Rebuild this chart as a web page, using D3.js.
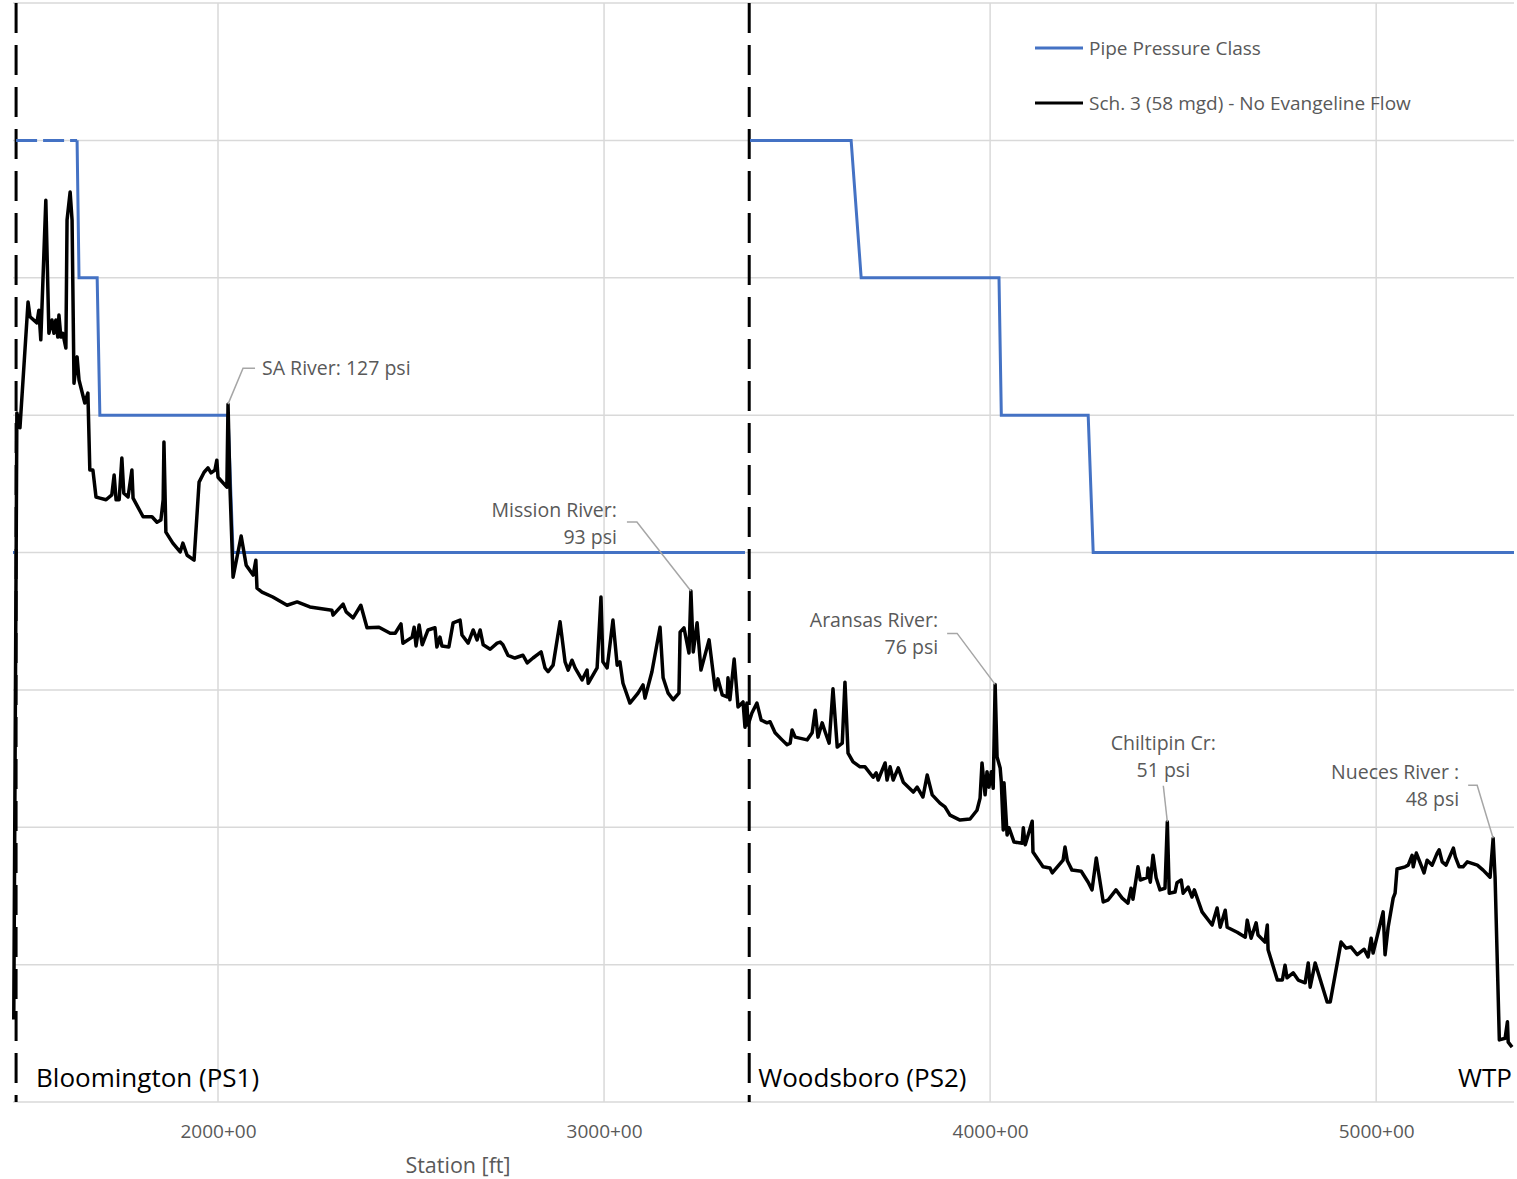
<!DOCTYPE html>
<html>
<head>
<meta charset="utf-8">
<script src="https://cdn.jsdelivr.net/npm/d3@7"></script>
<style>
  body { margin: 0; background: #fff; }
  svg { display: block; font-family: "Open Sans", Lato, sans-serif; }
</style>
</head>
<body>
<svg id="chart" width="1517" height="1179"></svg>
<script>
// Station (x 100 ft) vs pressure (psi)
const profile = [
  [1471,15.0],[1479,125.4],[1487,122.7],[1508,145.6],[1513,142.9],[1531,141.8],[1536,144.1],[1541,138.7],
  [1554,164.1],[1562,139.9],[1570,142.3],[1575,139.9],[1580,142.3],[1585,139.2],[1588,143.2],[1593,139.2],
  [1598,139.9],[1606,137.2],[1609,160.5],[1617,165.6],[1622,160.5],[1627,130.8],[1635,135.6],[1640,131.4],
  [1655,127.2],[1663,129.0],[1668,115.0],[1676,115.0],[1684,110.1],[1694,109.9],[1710,109.6],[1725,110.5],
  [1731,114.1],[1736,109.6],[1744,109.6],[1751,117.2],[1756,110.8],[1767,110.1],[1777,115.0],[1780,109.9],
  [1806,106.5],[1829,106.5],[1842,105.5],[1852,105.9],[1855,107.7],[1858,109.6],[1860,120.1],[1865,103.7],
  [1883,101.7],[1902,100.1],[1909,101.7],[1920,99.5],[1938,98.6],[1951,112.8],[1964,114.6],[1974,115.4],
  [1982,114.5],[1992,115.0],[1997,116.8],[2000,113.7],[2023,111.9],[2026,127],[2031,111.9],[2039,95.5],
  [2060,103.0],[2073,97.7],[2091,95.9],[2098,98.6],[2101,93.5],[2114,92.8],[2142,91.9],[2179,90.4],
  [2205,91.0],[2238,90.1],[2295,89.5],[2298,88.6],[2324,90.6],[2332,89.2],[2350,88.1],[2370,90.4],
  [2386,86.3],[2417,86.4],[2446,85.3],[2459,85.3],[2474,87.0],[2479,83.5],[2503,84.6],[2508,86.4],
  [2513,83.0],[2521,86.8],[2529,83.2],[2544,85.9],[2562,86.3],[2567,82.8],[2575,84.6],[2580,83.0],
  [2598,82.8],[2609,87.2],[2627,87.7],[2632,85.0],[2648,83.5],[2661,85.9],[2671,84.1],[2679,85.9],
  [2687,83.2],[2705,82.4],[2723,83.5],[2731,83.7],[2738,83.2],[2751,81.3],[2769,80.8],[2790,81.3],
  [2801,79.9],[2816,80.8],[2837,81.9],[2847,79.0],[2855,78.3],[2868,79.5],[2886,87.4],[2899,80.1],
  [2907,78.6],[2917,80.4],[2925,79.0],[2943,76.8],[2956,78.6],[2959,76.2],[2982,79.0],[2992,91.9],
  [2997,80.1],[3008,79.0],[3023,87.7],[3034,79.5],[3041,80.1],[3049,76.2],[3067,72.6],[3088,74.4],
  [3101,75.9],[3106,73.5],[3124,78.3],[3145,86.4],[3153,77.2],[3166,74.4],[3179,73.2],[3194,74.4],
  [3197,85.5],[3207,86.3],[3220,81.7],[3225,93],[3231,81.9],[3241,87.2],[3251,78.6],[3272,84.1],
  [3288,75.0],[3295,77.0],[3306,74.1],[3319,73.7],[3321,77.2],[3326,73.2],[3337,80.6],[3347,71.9],
  [3360,72.8],[3365,68.2],[3370,72.6],[3373,68.6],[3383,70.8],[3396,72.6],[3407,69.5],[3422,69.0],
  [3430,69.2],[3443,67.2],[3461,65.9],[3474,65.0],[3482,65.3],[3487,67.7],[3495,66.4],[3526,65.9],
  [3539,67.2],[3547,71.3],[3554,66.4],[3565,69.0],[3573,67.3],[3583,65.3],[3593,75.2],[3604,64.6],
  [3617,65.3],[3624,76.4],[3632,63.5],[3645,61.9],[3663,61.0],[3676,61.0],[3697,59.1],[3705,59.9],
  [3710,58.6],[3728,61.7],[3733,58.6],[3741,61.0],[3749,58.6],[3762,60.8],[3775,58.2],[3801,56.4],
  [3811,57.3],[3826,55.5],[3837,59.5],[3850,55.9],[3870,54.4],[3883,53.7],[3896,52.2],[3922,51.3],
  [3948,51.5],[3966,53.1],[3974,55.3],[3979,61.7],[3987,55.9],[3992,60.1],[3997,57.3],[4003,60.1],
  [4008,57.1],[4013,76],[4018,62.8],[4026,60.8],[4029,58.2],[4034,49.5],[4036,58.1],[4044,48.6],
  [4049,49.9],[4062,47.3],[4083,47.1],[4086,49.9],[4091,46.8],[4109,51.1],[4111,45.5],[4137,42.8],
  [4155,42.6],[4161,41.7],[4189,44.0],[4194,46.4],[4200,43.9],[4212,42.2],[4236,42.0],[4254,40.0],
  [4264,38.6],[4275,44.4],[4293,36.4],[4306,36.8],[4326,38.6],[4342,37.1],[4357,36.2],[4365,38.9],
  [4370,36.9],[4383,42.8],[4389,40.4],[4407,40.9],[4409,42.6],[4415,40.0],[4422,44.9],[4430,40.8],
  [4440,38.6],[4453,38.9],[4459,51],[4464,38.0],[4479,38.2],[4484,39.9],[4495,40.4],[4500,38.0],
  [4513,39.1],[4523,37.3],[4529,38.6],[4549,34.6],[4575,32.2],[4588,35.3],[4596,31.8],[4609,34.9],
  [4614,31.8],[4640,30.9],[4661,30.0],[4666,33.1],[4676,29.8],[4689,32.6],[4694,30.4],[4712,29.1],
  [4718,32.2],[4720,27.7],[4744,22.2],[4757,22.2],[4764,24.9],[4769,22.6],[4785,23.5],[4798,22.2],
  [4816,21.7],[4824,25.3],[4829,20.9],[4842,25.3],[4873,18.2],[4881,18.2],[4909,29.1],[4922,28.0],
  [4935,28.2],[4951,26.8],[4969,27.8],[4979,26.4],[4987,29.8],[4992,27.1],[5018,34.6],[5023,26.8],
  [5031,31.8],[5044,37.1],[5049,38.0],[5054,42.4],[5075,42.8],[5083,43.1],[5093,44.9],[5096,42.8],
  [5104,45.3],[5114,43.5],[5124,41.7],[5132,44.0],[5145,43.1],[5158,45.3],[5163,45.9],[5171,43.7],
  [5181,43.1],[5200,46.2],[5205,44.6],[5215,42.8],[5225,42.8],[5236,43.7],[5262,43.1],[5277,42.2],
  [5295,40.9],[5303,48],[5308,40.9],[5319,11.3],[5334,11.6],[5340,14.6],[5342,10.9],[5352,10.0]
];

// Pipe pressure class (psi) by station; null breaks the line
const pipeClass = [
  [1469,100],[1477,100],null,
  [1635,175],[1640,150],[1687,150],[1694,125],[2026,125],[2039,100],[3365,100],null,
  [3378,175],[3640,175],[3666,150],[4023,150],[4029,125],[4254,125],[4267,100],[5357,100]
];
const pipeClassDashed = [[1477,175],[1635,175]];

const pumpStations = [
  {name: 'Bloomington (PS1)', station: 1477},
  {name: 'Woodsboro (PS2)', station: 3376}
];
const endLabel = 'WTP';

const xTicks = [2000, 3000, 4000, 5000];
const yTicks = [0, 25, 50, 75, 100, 125, 150, 175, 200];

const callouts = [
  {lines: ['SA River: 127 psi'], station: 2026, psi: 127},
  {lines: ['Mission River:', '93 psi'], station: 3225, psi: 93},
  {lines: ['Aransas River:', '76 psi'], station: 4013, psi: 76},
  {lines: ['Chiltipin Cr:', '51 psi'], station: 4459, psi: 51},
  {lines: ['Nueces River :', '48 psi'], station: 5303, psi: 48}
];

const legendItems = [
  {label: 'Pipe Pressure Class', color: '#4472c4'},
  {label: 'Sch. 3 (58 mgd) - No Evangeline Flow', color: '#000'}
];

// ---- layout
const svg = d3.select('#chart');
const x = d3.scaleLinear().domain([1469, 5357]).range([13, 1514]);
const y = d3.scaleLinear().domain([0, 200]).range([1102, 3]);
const gridColor = '#d9d9d9';

// gridlines
svg.append('g')
  .selectAll('line')
  .data(yTicks)
  .join('line')
    .attr('x1', x.range()[0]).attr('x2', x.range()[1])
    .attr('y1', d => y(d)).attr('y2', d => y(d))
    .attr('stroke', gridColor).attr('stroke-width', 1.5);

svg.append('g')
  .selectAll('line')
  .data(xTicks)
  .join('line')
    .attr('x1', d => x(d)).attr('x2', d => x(d))
    .attr('y1', y(200)).attr('y2', y(0))
    .attr('stroke', gridColor).attr('stroke-width', 1.5);

// x axis labels
const xAxis = d3.axisBottom(x)
  .tickValues(xTicks)
  .tickSize(0)
  .tickPadding(23)
  .tickFormat(d => d + '+00');

svg.append('g')
  .attr('transform', `translate(0,${y(0)})`)
  .call(xAxis)
  .call(g => g.select('.domain').remove())
  .selectAll('text')
    .attr('font-family', '"Open Sans", sans-serif')
    .attr('font-size', '19px')
    .attr('fill', '#595959');

svg.append('text')
  .attr('x', 458).attr('y', 1173)
  .attr('text-anchor', 'middle')
  .attr('font-size', '21.5px')
  .attr('fill', '#595959')
  .text('Station [ft]');

// pump station markers
const labelShift = [20, 9];
svg.append('g')
  .selectAll('line')
  .data(pumpStations)
  .join('line')
    .attr('x1', d => x(d.station)).attr('x2', d => x(d.station))
    .attr('y1', y(200)).attr('y2', y(0))
    .attr('stroke', '#000').attr('stroke-width', 3)
    .attr('stroke-dasharray', '30,12');

svg.append('g')
  .selectAll('text')
  .data(pumpStations)
  .join('text')
    .attr('x', (d, i) => x(d.station) + labelShift[i])
    .attr('y', 1087)
    .attr('font-size', '26px')
    .attr('fill', '#000')
    .text(d => d.name);

svg.append('text')
  .attr('x', 1512).attr('y', 1087)
  .attr('text-anchor', 'end')
  .attr('font-size', '26px')
  .text(endLabel);

// lines
const line = d3.line()
  .defined(d => d != null)
  .x(d => x(d[0]))
  .y(d => y(d[1]));

svg.append('path')
  .datum(pipeClassDashed)
  .attr('fill', 'none')
  .attr('stroke', '#4472c4')
  .attr('stroke-width', 3)
  .attr('stroke-dasharray', '21,6')
  .attr('d', line);

svg.append('path')
  .datum(pipeClass)
  .attr('fill', 'none')
  .attr('stroke', '#4472c4')
  .attr('stroke-width', 3)
  .attr('d', line);

svg.append('path')
  .datum(profile)
  .attr('fill', 'none')
  .attr('stroke', '#000')
  .attr('stroke-width', 3.5)
  .attr('stroke-linejoin', 'round')
  .attr('d', line);

// callouts: leader offsets from the peak point, in px
const calloutLayout = [
  {leader: [[15,-36],[27,-36]], text: [34,-36], anchor: 'start'},
  {leader: [[-54,-69],[-64,-69]], text: [-74,-81], anchor: 'end'},
  {leader: [[-38,-51],[-48,-51]], text: [-57,-64], anchor: 'end'},
  {leader: [[-4,-36]], text: [-4,-79], anchor: 'middle'},
  {leader: [[-16,-53],[-25,-53]], text: [-34,-66], anchor: 'end'}
];

callouts.forEach((c, i) => {
  const L = calloutLayout[i];
  const px = x(c.station), py = y(c.psi);
  const pts = [[px, py]].concat(L.leader.map(o => [px + o[0], py + o[1]]));
  svg.append('path')
    .attr('d', d3.line()(pts))
    .attr('fill', 'none')
    .attr('stroke', '#a6a6a6')
    .attr('stroke-width', 1.5);
  const t = svg.append('text')
    .attr('text-anchor', L.anchor)
    .attr('font-size', '19.5px')
    .attr('fill', '#595959');
  c.lines.forEach((s, j) => {
    t.append('tspan')
      .attr('x', px + L.text[0])
      .attr('y', py + L.text[1] + j * 27)
      .attr('dy', '0.35em')
      .text(s);
  });
});

// legend
const legend = svg.append('g').attr('transform', 'translate(1035,48)');
legendItems.forEach((d, i) => {
  const g = legend.append('g').attr('transform', `translate(0,${i * 55})`);
  g.append('line')
    .attr('x1', 0).attr('x2', 48)
    .attr('stroke', d.color).attr('stroke-width', 3);
  g.append('text')
    .attr('x', 54).attr('dy', '0.35em')
    .attr('font-size', '19px')
    .attr('fill', '#595959')
    .text(d.label);
});
</script>
</body>
</html>
